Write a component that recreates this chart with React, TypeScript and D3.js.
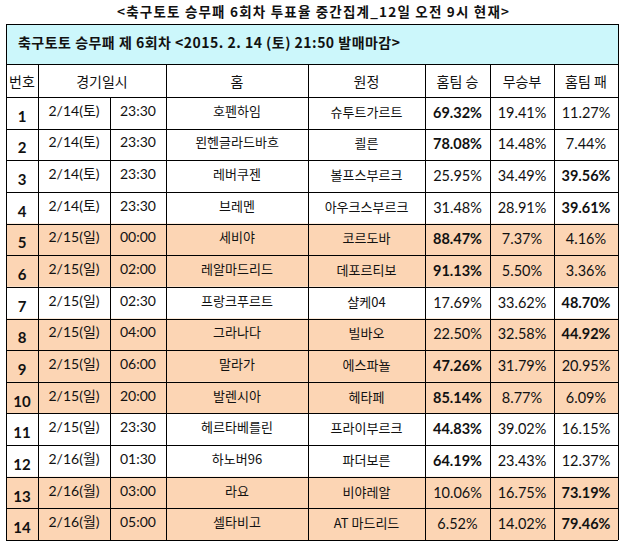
import * as d3 from "d3";

const title = "<축구토토 승무패 6회차 투표율 중간집계_12일 오전 9시 현재>";
const bandText = "축구토토 승무패 제 6회차 <2015. 2. 14 (토) 21:50 발매마감>";
const headers = ["번호", "경기일시", "홈", "원정", "홈팀 승", "무승부", "홈팀 패"];

const dates = ["2/14(토)", "2/14(토)", "2/14(토)", "2/14(토)", "2/15(일)", "2/15(일)", "2/15(일)", "2/15(일)", "2/15(일)", "2/15(일)", "2/15(일)", "2/16(월)", "2/16(월)", "2/16(월)"];
const times = ["23:30", "23:30", "23:30", "23:30", "00:00", "02:00", "02:30", "04:00", "06:00", "20:00", "23:30", "01:30", "03:00", "05:00"];
const homeTeams = ["호펜하임", "묀헨글라드바흐", "레버쿠젠", "브레멘", "세비야", "레알마드리드", "프랑크푸르트", "그라나다", "말라가", "발렌시아", "헤르타베를린", "하노버96", "라요", "셀타비고"];
const awayTeams = ["슈투트가르트", "쾰른", "볼프스부르크", "아우크스부르크", "코르도바", "데포르티보", "샬케04", "빌바오", "에스파뇰", "헤타페", "프라이부르크", "파더보른", "비야레알", "AT 마드리드"];
const homeWin = [69.32, 78.08, 25.95, 31.48, 88.47, 91.13, 17.69, 22.5, 47.26, 85.14, 44.83, 64.19, 10.06, 6.52];
const draw = [19.41, 14.48, 34.49, 28.91, 7.37, 5.5, 33.62, 32.58, 31.79, 8.77, 39.02, 23.43, 16.75, 14.02];
const homeLoss = [11.27, 7.44, 39.56, 39.61, 4.16, 3.36, 48.7, 44.92, 20.95, 6.09, 16.15, 12.37, 73.19, 79.46];
const highlighted = [5, 6, 8, 9, 10, 13, 14];

const W = 624;
const H = 548;
const colEdges = [6, 38, 110, 166, 308, 425, 490, 554, 618];
const top = 24;
const bandBottom = 64;
const headBottom = 97;
const bottom = 540;

const korean = "'Noto Sans CJK KR', 'Noto Sans', sans-serif";
const latin = "Lato, 'Noto Sans CJK KR', sans-serif";

export default function App() {
  const rowIds = d3.range(1, homeTeams.length + 1);
  const y = d3.scaleBand<number>().domain(rowIds).range([headBottom, bottom]);
  const cx = (i: number) => (colEdges[i] + colEdges[i + 1]) / 2;
  const fmt = (v: number) => v.toFixed(2) + "%";

  return (
    <svg width={W} height={H} style={{ position: "absolute", left: 0, top: 0, background: "#fff" }}>
      <text x={117} y={17} textLength={392} lengthAdjust="spacing" fontFamily={korean} fontSize={13.5} fontWeight={700} fill="#111">
        {title}
      </text>
      <rect x={colEdges[0]} y={top} width={colEdges[8] - colEdges[0]} height={bandBottom - top} fill="#ccf7fb" />
      <text x={18} y={48} textLength={382} lengthAdjust="spacing" fontFamily={korean} fontSize={14} fontWeight={700} fill="#111">
        {bandText}
      </text>
      {rowIds.map((id) => (
        <rect key={id} x={colEdges[0]} y={y(id)} width={colEdges[8] - colEdges[0]} height={y.bandwidth()}
          fill={highlighted.includes(id) ? "#fcd5b4" : "#fff"} />
      ))}
      {/* header row */}
      {headers.map((h, i) => {
        const x = i === 0 ? cx(0) : i === 1 ? (colEdges[1] + colEdges[3]) / 2 : cx(i + 1);
        return (
          <text key={h} x={x} y={87} textAnchor="middle" fontFamily={korean} fontSize={14} fill="#111">
            {h}
          </text>
        );
      })}
      {rowIds.map((id, r) => {
        const yc = (y(id) as number) + y.bandwidth() / 2;
        const vals = [homeWin[r], draw[r], homeLoss[r]];
        const mx = d3.max(vals) as number;
        return (
          <g key={id}>
            <text x={cx(0)} y={yc + 9} textAnchor="middle" fontFamily={latin} fontSize={15} fontWeight={700} fill="#111">{id}</text>
            <text x={cx(1)} y={yc + 3} textAnchor="middle" fontFamily={latin} fontSize={14} fill="#111">{dates[r]}</text>
            <text x={cx(2)} y={yc + 3} textAnchor="middle" fontFamily={latin} fontSize={14} fill="#111">{times[r]}</text>
            <text x={cx(3)} y={yc + 3} textAnchor="middle" fontFamily={korean} fontSize={13} fill="#111">{homeTeams[r]}</text>
            <text x={cx(4)} y={yc + 4} textAnchor="middle" fontFamily={korean} fontSize={13} fill="#111">{awayTeams[r]}</text>
            {vals.map((v, k) => (
              <text key={k} x={cx(5 + k)} y={yc + 5} textAnchor="middle" fontFamily={latin} fontSize={14.5}
                fontWeight={v === mx ? 700 : 400} fill="#111">{fmt(v)}</text>
            ))}
          </g>
        );
      })}
      {/* grid lines */}
      {[top, bandBottom, headBottom, ...rowIds.map((id) => (y(id) as number) + y.bandwidth())].map((yy, i) => (
        <line key={"h" + i} x1={colEdges[0]} x2={colEdges[8]} y1={Math.round(yy) + 0.5} y2={Math.round(yy) + 0.5} stroke="#000" strokeWidth={1} />
      ))}
      {colEdges.map((x, i) => {
        const y1 = i === 0 || i === colEdges.length - 1 ? top : bandBottom;
        const skipHead = i === 2;
        return (
          <line key={"v" + i} x1={x + 0.5} x2={x + 0.5} y1={skipHead ? headBottom : y1} y2={bottom} stroke="#000" strokeWidth={1} />
        );
      })}
    </svg>
  );
}
